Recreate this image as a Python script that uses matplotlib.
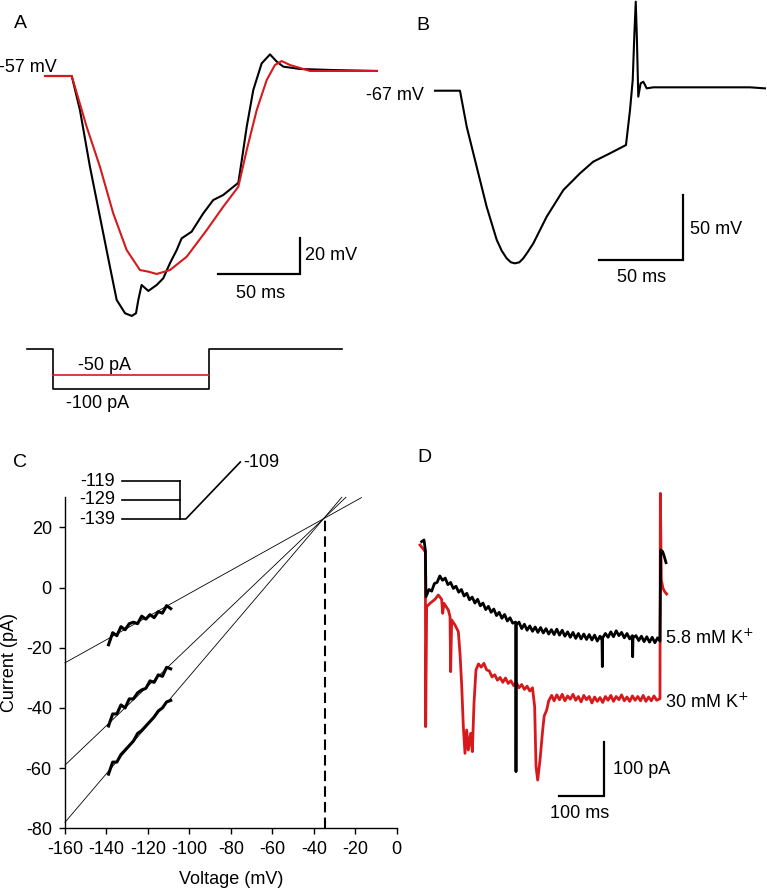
import matplotlib.pyplot as plt
import numpy as np

W, H = 767, 891

# ---- panel A: voltage responses (ms, mV)
a_black_t = [0, 16.3, 21.3, 27.4, 33.5, 39.6, 43.7, 48.8, 52.9, 55.5, 56.9, 58.9, 63, 68.1, 72.1,
             76.2, 80.3, 83.3, 89.4, 96.5, 102.6, 108.7, 117.9, 120, 123, 127, 132.1, 137.2,
             141.3, 145.3, 155.5, 175.8, 202.3]
a_black_v = [-57, -57, -75.9, -107.4, -135.2, -163, -181.4, -188.8, -190.3, -188.8, -181.4, -173.1,
             -176.4, -173.1, -169.4, -161, -153.7, -147.2, -143.5, -133.3, -125.9, -123.1, -116.3,
             -103.7, -85.2, -64.8, -50, -45, -49, -51.8, -53.1, -53.7, -54.2]
a_red_t = [0, 16.3, 25.4, 33.5, 41.6, 49.8, 57.9, 63, 68.1, 76.2, 86.4, 98.6, 108.7, 117.9, 123,
           129.1, 135.2, 140.2, 144.3, 149.4, 161.6, 202.3]
a_red_v = [-57, -57, -85.2, -107.4, -133.3, -153.7, -164.8, -165.7, -167, -164.8, -157.4, -142.6,
           -129.6, -118.5, -98.1, -75.9, -59.2, -50.9, -48.7, -50.9, -54.2, -54.2]

# current steps under A (ms, pA)
stim_t = [0, 15.9, 15.9, 111, 111, 192]
stim_black = [0, 0, -100, -100, 0, 0]
stim_red_t = [15.9, 111]
stim_red = [-65, -65]

# ---- panel B (ms, mV)
b_t = [0, 14.8, 18.8, 24.7, 30.6, 36.6, 39.5, 42.5, 45, 47.4, 50, 52.3, 55, 58.3, 66.2, 76.1, 86,
       93.8, 103.7, 113.2, 115.6, 117.2, 118.2, 119, 119.7, 120.5, 121.9, 123.5, 125.5, 129.4,
       157.1, 186.7, 195.6]
b_v = [-67, -67, -94.7, -125.5, -156.2, -181.8, -190, -196, -199, -199.8, -199, -196, -191, -184.4,
       -163.9, -143.4, -130.5, -121.6, -115.2, -108.8, -81.8, -58.8, -22.8, 1.5, -28, -71.6,
       -61.3, -60.1, -65.2, -64.4, -64.4, -64.4, -65.2]

# ---- panel C: I-V relations (mV, pA)
iv_v = [-139, -137, -135, -133, -131, -129, -127, -125, -123, -121, -119, -117, -115, -113, -111, -109]
iv_top = [-19, -15, -16, -13, -14, -12, -11.5, -12, -9.5, -10.5, -9, -10, -8, -8.5, -6, -7]
iv_mid = [-46, -42, -42, -39, -40, -37, -37, -35, -34, -33.5, -31, -31.5, -29, -29.5, -26.5, -27]
iv_bot = [-62, -58, -58, -55.5, -54, -52.5, -51, -48.5, -47.5, -46, -44.5, -43, -41, -40, -38, -37.5]
fit_v = [[-160, -17], [-160, -24.5], [-160, -26.5]]
fit_i = [[-25, 29.9], [-59, 30], [-78, 30]]
erev_v, erev_i = -34.6, 23.3

# protocol inset (arbitrary ms, mV)
prot_levels = [-119, -129, -139]
prot_t = [0, 100]
ramp_t = [100, 110, 204]
ramp_v = [-139, -139, -109]

# ---- panel D: currents (ms, pA)
d_black_t = [3.7, 8.9, 11.9, 13.3, 20, 26, 32, 38, 44, 50, 56, 62, 68, 74, 80, 86, 92, 98, 104,
             110, 116, 122, 128, 134, 140, 146, 152, 158, 164, 170, 176, 182, 188, 194, 200, 206,
             212.6, 213.3, 214.1, 220, 226, 232, 238, 244, 250, 256, 262, 268, 274, 280, 286, 292,
             298, 304, 310, 316, 322, 328, 334, 340, 346, 352, 358, 364, 370, 376, 382, 388, 394,
             400, 404.4, 405.2, 405.9, 412, 418, 424, 430, 436, 442, 448, 454, 460, 466, 471.9,
             472.6, 473.3, 480, 486, 492, 498, 504, 510, 516, 522, 528, 533.3, 534.8, 539.3, 543,
             546.7]
d_black_i = [181.1, 184.2, 165.7, 79.8, 93, 90, 104, 106, 118, 110, 114, 102, 106, 95, 99, 88, 93,
             81, 86, 74, 79, 68, 75, 63, 68, 56, 62, 51, 57, 45, 51, 40, 47, 35, 41, 31, 33, -242.5,
             28, 33, 21, 29, 18, 26, 16, 24, 14, 23, 13, 21, 11, 19, 10, 20, 9, 18, 7, 15, 5, 14, 3,
             12, 2, 11, 1, 10, 0, 9, -2, 7, 0, -49, 4, 12, 5, 15, 6, 17, 8, 14, 4, 12, 2, 8, -31, 4,
             8, -1, 7, -3, 6, -4, 5, -5, 4, -2, 165.7, 162.7, 153.5, 142.4]
d_red_t = [0, 8.9, 11.9, 12.6, 14.8, 22.2, 33.3, 40.7, 48.1, 50.4, 53.3, 63, 66.7, 68.1, 70.4, 77.8,
           85.2, 88.9, 92.6, 96.3, 100, 103.7, 107.4, 112.6, 116.3, 120, 124.4, 130, 136, 142, 148,
           154, 160, 166, 172, 178, 184, 190, 196, 202, 208, 214, 220, 226, 232, 238, 244, 250,
           254.8, 257.8, 261.5, 266.7, 272.6, 276, 281.5, 286, 292.6, 298, 304, 310, 316, 322,
           328, 334, 340, 346, 352, 358, 364, 370, 376, 382, 388, 394, 400, 406, 412, 418, 424,
           430, 436, 442, 448, 454, 460, 466, 472, 478, 484, 490, 496, 502, 508, 514, 520, 526,
           533.3, 534.1, 536.3, 540, 543.7, 548.1]
d_red_i = [175, 165.7, 162.7, -159.6, 61.4, 67.5, 74.9, 82.9, 74.9, 49.1, 67.5, 55.2, 43, -58.3,
           36.8, 27.6, 15.3, -24.6, -82.9, -159.6, -208.7, -165.7, -202.6, -171.9, -205.6, -116.6,
           -55, -44, -50, -43, -55, -57, -68, -64, -74, -69, -78, -70, -80, -75, -84, -78, -88,
           -82, -91, -85, -94, -88, -122.8, -233, -258, -221, -166, -140, -129, -112, -102, -112,
           -101, -110, -100, -112, -103, -109, -100, -111, -104, -114, -102, -110, -104, -116,
           -105, -113, -106, -115, -104, -111, -102, -113, -104, -110, -101, -112, -105, -113,
           -103, -111, -104, -112, -102, -113, -105, -112, -103, -111, -108, 270.1, 110.5, 95.2,
           89, 84.7]

RED = '#d7191c'

plt.rcParams['font.family'] = ['Liberation Sans', 'DejaVu Sans']
plt.rcParams['font.size'] = 13
plt.rcParams['axes.unicode_minus'] = False

fig = plt.figure(figsize=(W / 100, H / 100), dpi=100)


def add_panel(x0, y0, x1, y1):
    return fig.add_axes([x0 / W, 1 - y1 / H, (x1 - x0) / W, (y1 - y0) / H])


def trace_axes(box, t0_px, px_per_t, v_ref, v_ref_px, px_per_v):
    x0, y0, x1, y1 = box
    ax = add_panel(x0, y0, x1, y1)
    ax.set_xlim((x0 - t0_px) / px_per_t, (x1 - t0_px) / px_per_t)
    ax.set_ylim(v_ref - (y1 - v_ref_px) / px_per_v, v_ref + (v_ref_px - y0) / px_per_v)
    ax.axis('off')
    ax.patch.set_alpha(0)
    return ax


def ftext(x, y, s, **kw):
    kw.setdefault('va', 'center')
    fig.text(x / W, 1 - y / H, s, **kw)


def scalebar(ax, t_end, y_end, dt, dy, lw=1.6):
    ax.plot([t_end - dt, t_end, t_end], [y_end, y_end, y_end + dy], color='k', lw=lw,
            solid_joinstyle='miter', clip_on=False)


# A
ax_a = trace_axes((20, 30, 390, 335), 45, 1.64, -57, 76, 1.8)
ax_a.plot(a_black_t, a_black_v, color='k', lw=1.5)
ax_a.plot(a_red_t, a_red_v, color=RED, lw=1.5)
scalebar(ax_a, 155.5, -167, 50, 20)
ftext(14, 24, 'A', fontsize=14)
ftext(-1, 67, '-57 mV')
ftext(305, 256, '20 mV')
ftext(261, 293, '50 ms', ha='center')

ax_s = trace_axes((15, 340, 360, 400), 27, 1.64, 0, 349, 0.4)
ax_s.plot(stim_t, stim_black, color='k', lw=1.2)
ax_s.plot(stim_red_t, stim_red, color=RED, lw=1.2)
ftext(105, 365, '-50 pA', ha='center')
ftext(98, 404, '-100 pA', ha='center')

# B
ax_b = trace_axes((425, 0, 767, 300), 435, 1.687, -67, 90.7, 1.3)
ax_b.plot(b_t, b_v, color='k', lw=1.5, clip_on=False)
scalebar(ax_b, 147.2, -197.2, 50, 50)
ftext(416, 25, 'B', fontsize=14)
ftext(366, 96, '-67 mV')
ftext(690, 230, '50 mV')
ftext(642, 278, '50 ms', ha='center')

# C
ax_c = add_panel(65, 497.3, 396.7, 828.3)
for fv, fi in zip(fit_v, fit_i):
    ax_c.plot(fv, fi, color='k', lw=0.6, clip_on=False)
for seg in (iv_top, iv_mid, iv_bot):
    ax_c.plot(iv_v, seg, color='k', lw=2.2)
ax_c.plot([erev_v, erev_v], [-80, erev_i], color='k', lw=1.5, dashes=(5, 2.5))
ax_c.set_xlim(-160, 0)
ax_c.set_ylim(-80, 30)
ax_c.set_xticks(range(-160, 1, 20))
ax_c.set_yticks(range(-80, 21, 20))
for s in ('top', 'right'):
    ax_c.spines[s].set_visible(False)
for s in ('left', 'bottom'):
    ax_c.spines[s].set_linewidth(1.0)
ax_c.tick_params(direction='out', length=4.5, width=1.0, pad=5, labelsize=13)
ax_c.set_xlabel('Voltage (mV)', fontsize=13)
ax_c.set_ylabel('Current (pA)', fontsize=13)
ax_c.xaxis.set_label_coords(0.5, -0.13)
ax_c.yaxis.set_label_coords(-0.142, 0.5)
ftext(13, 463, 'C', fontsize=14)

ax_p = trace_axes((110, 450, 255, 528), 122, 0.58, -139, 519, 1.9)
for lvl in prot_levels:
    ax_p.plot(prot_t, [lvl, lvl], color='k', lw=1.2)
ax_p.plot([prot_t[1], prot_t[1]], [min(prot_levels), max(prot_levels)], color='k', lw=1.2)
ax_p.plot(ramp_t, ramp_v, color='k', lw=1.2)
for lvl, y in zip(prot_levels, (481, 500, 519)):
    ftext(115, y, str(lvl), ha='right')
ftext(243, 463, str(ramp_v[-1]), ha='left')

# D
ax_d = trace_axes((405, 470, 767, 805), 420, 0.45, 0, 640, 0.543)
ax_d.plot(d_red_t, d_red_i, color=RED, lw=2.0)
ax_d.plot(d_black_t, d_black_i, color='k', lw=2.0)
scalebar(ax_d, 409.6, -287.3, 100, 100)
ftext(417, 458, 'D', fontsize=14)
ftext(665, 638, '5.8 mM K$^{+}$')
ftext(665, 702, '30 mM K$^{+}$')
ftext(613, 770, '100 pA')
ftext(580, 813, '100 ms', ha='center')

fig.savefig('out.png', dpi=100)
